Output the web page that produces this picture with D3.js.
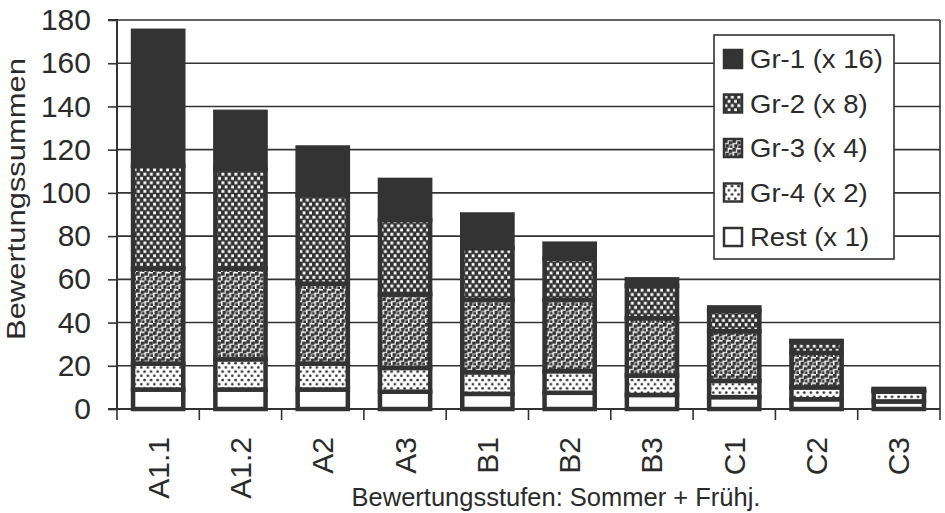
<!DOCTYPE html>
<html>
<head>
<meta charset="utf-8">
<script src="https://cdn.jsdelivr.net/npm/d3@7"></script>
<style>
  body { margin: 0; background: #fff; }
  svg text { font-family: "Liberation Sans", Arial, sans-serif; fill: #2b2b2b; }
</style>
</head>
<body>
<svg id="chart"></svg>
<script>
let w = 945;
let h = 513;

// categories along the x axis
let stufen = ["A1.1", "A1.2", "A2", "A3", "B1", "B2", "B3", "C1", "C2", "C3"];

// series (bottom to top)
let rest = [9, 9, 9, 8, 7, 7.5, 6.5, 5.5, 4.5, 3.5];
let gr4 = [12, 14, 12, 11, 10, 10, 9, 7.5, 5.5, 4.5];
let gr3 = [44, 42, 37, 34, 33.5, 33, 26.5, 23, 16, 0.5];
let gr2 = [47.5, 46, 41, 34.5, 24, 19, 15, 9.5, 5, 0.5];
let gr1 = [62.5, 26.5, 22, 18.5, 15.5, 7, 3, 1.5, 0.5, 0.3];

let seriesNames = ["Rest (x 1)", "Gr-4 (x 2)", "Gr-3 (x 4)", "Gr-2 (x 8)", "Gr-1 (x 16)"];
let yTicks = [0, 20, 40, 60, 80, 100, 120, 140, 160, 180];

let dark = "#333";
let mLeft = 117, mRight = 940, mTop = 20, mBottom = 409;

let chart1 = d3.select("#chart").attr("width", w).attr("height", h);

// patterns
let defs = chart1.append("defs");

let p2 = defs.append("pattern").attr("id", "pGr2")
  .attr("patternUnits", "userSpaceOnUse").attr("width", 6.5).attr("height", 8.6);
p2.append("rect").attr("width", 6.5).attr("height", 8.6).attr("fill", dark);
p2.append("rect").attr("x", 0.4).attr("y", 0.7).attr("width", 2.9).attr("height", 2.9).attr("fill", "#fff");
p2.append("rect").attr("x", 3.65).attr("y", 5).attr("width", 2.9).attr("height", 2.9).attr("fill", "#fff");

let p3 = defs.append("pattern").attr("id", "pGr3")
  .attr("patternUnits", "userSpaceOnUse").attr("width", 8.5).attr("height", 8.5);
p3.append("rect").attr("width", 8.5).attr("height", 8.5).attr("fill", "#fff");
[[0, 0], [4.7, 1.5], [1.5, 4.7], [5.9, 5.9]].forEach(([x, y]) => {
  p3.append("rect").attr("x", x).attr("y", y).attr("width", 3.6).attr("height", 3.6).attr("fill", dark);
});

let p4 = defs.append("pattern").attr("id", "pGr4")
  .attr("patternUnits", "userSpaceOnUse").attr("width", 6.5).attr("height", 8.4);
p4.append("rect").attr("width", 6.5).attr("height", 8.4).attr("fill", "#fff");
p4.append("circle").attr("cx", 1.6).attr("cy", 2).attr("r", 1.35).attr("fill", dark);
p4.append("circle").attr("cx", 4.85).attr("cy", 6.2).attr("r", 1.35).attr("fill", dark);

let fills = ["#fff", "url(#pGr4)", "url(#pGr3)", "url(#pGr2)", dark];

// scales
let xScale = d3.scaleBand().domain(stufen).range([mLeft, mRight]).paddingInner(0.39).paddingOuter(0.195);
let yScale = d3.scaleLinear().domain([0, 180]).range([mBottom, mTop]);

// gridlines + frame
chart1.append("g").selectAll("line")
  .data(yTicks.filter(d => d > 0))
  .join("line")
  .attr("x1", mLeft).attr("x2", mRight)
  .attr("y1", d => yScale(d)).attr("y2", d => yScale(d))
  .attr("stroke", dark).attr("stroke-width", 1.6);
chart1.append("line")
  .attr("x1", mRight).attr("x2", mRight).attr("y1", mTop).attr("y2", mBottom)
  .attr("stroke", dark).attr("stroke-width", 1.6);

// stacked bars
let table = stufen.map((s, i) => ({ s: s, k0: rest[i], k1: gr4[i], k2: gr3[i], k3: gr2[i], k4: gr1[i] }));
let stack = d3.stack().keys(["k0", "k1", "k2", "k3", "k4"])(table);

chart1.append("g").selectAll("g")
  .data(stack)
  .join("g")
  .attr("fill", (d, i) => fills[i])
  .selectAll("rect")
  .data(d => d)
  .join("rect")
  .attr("x", d => xScale(d.data.s))
  .attr("width", xScale.bandwidth())
  .attr("y", d => yScale(d[1]))
  .attr("height", d => yScale(d[0]) - yScale(d[1]))
  .attr("stroke", dark)
  .attr("stroke-width", 4.5);

// x axis
let xAxisGroup = chart1.append("g")
  .attr("transform", `translate(0, ${mBottom})`);
xAxisGroup.append("line").attr("x1", mLeft - 9).attr("x2", mRight)
  .attr("stroke", dark).attr("stroke-width", 2);
xAxisGroup.selectAll(".sep")
  .data(d3.range(stufen.length + 1))
  .join("line")
  .attr("class", "sep")
  .attr("x1", i => mLeft + i * (mRight - mLeft) / stufen.length)
  .attr("x2", i => mLeft + i * (mRight - mLeft) / stufen.length)
  .attr("y1", 0).attr("y2", 11)
  .attr("stroke", dark).attr("stroke-width", 1.6);

xAxisGroup.selectAll(".lab")
  .data(stufen)
  .join("text")
  .attr("class", "lab")
  .attr("transform", d => `translate(${xScale(d) + xScale.bandwidth() / 2 + 10.5}, 28) rotate(-90)`)
  .attr("text-anchor", "end")
  .attr("font-size", 30)
  .text(d => d);

// y axis
let yAxis = d3.axisLeft(yScale).tickValues(yTicks).tickSize(9).tickPadding(17);
let yAxisGroup = chart1.append("g")
  .attr("transform", `translate(${mLeft}, 0)`)
  .call(yAxis);
yAxisGroup.select(".domain").attr("stroke", dark).attr("stroke-width", 2)
  .attr("d", `M-9,${mTop}H0V${mBottom}`);
yAxisGroup.selectAll(".tick line").attr("stroke", dark).attr("stroke-width", 1.6);
yAxisGroup.selectAll(".tick text")
  .attr("font-size", 30).attr("fill", "#2b2b2b")
  .attr("font-family", "Liberation Sans, Arial, sans-serif");

// axis titles
chart1.append("text")
  .attr("transform", `translate(25, 199) rotate(-90)`)
  .attr("text-anchor", "middle")
  .attr("font-size", 26)
  .attr("textLength", 282)
  .attr("lengthAdjust", "spacingAndGlyphs")
  .text("Bewertungssummen");

chart1.append("text")
  .attr("x", 556).attr("y", 506)
  .attr("text-anchor", "middle")
  .attr("font-size", 25.5)
  .text("Bewertungsstufen: Sommer + Frühj.");

// legend
let legend = chart1.append("g").attr("transform", "translate(714, 35)");
legend.append("rect").attr("width", 180).attr("height", 224)
  .attr("fill", "#fff").attr("stroke", dark).attr("stroke-width", 1.6);
let legendOrder = [4, 3, 2, 1, 0];
let items = legend.selectAll(".item")
  .data(legendOrder)
  .join("g")
  .attr("class", "item")
  .attr("transform", (d, i) => `translate(10, ${24 + i * 44.5})`);
items.append("rect")
  .attr("x", 0).attr("y", -9).attr("width", 18).attr("height", 18)
  .attr("fill", d => fills[d]).attr("stroke", dark).attr("stroke-width", 2.5);
items.append("text")
  .attr("x", 26).attr("y", 9)
  .attr("font-size", 25)
  .text(d => seriesNames[d])
  .each(function () {
    let len = this.getComputedTextLength();
    d3.select(this).attr("textLength", len * 1.1).attr("lengthAdjust", "spacingAndGlyphs");
  });
</script>
</body>
</html>
